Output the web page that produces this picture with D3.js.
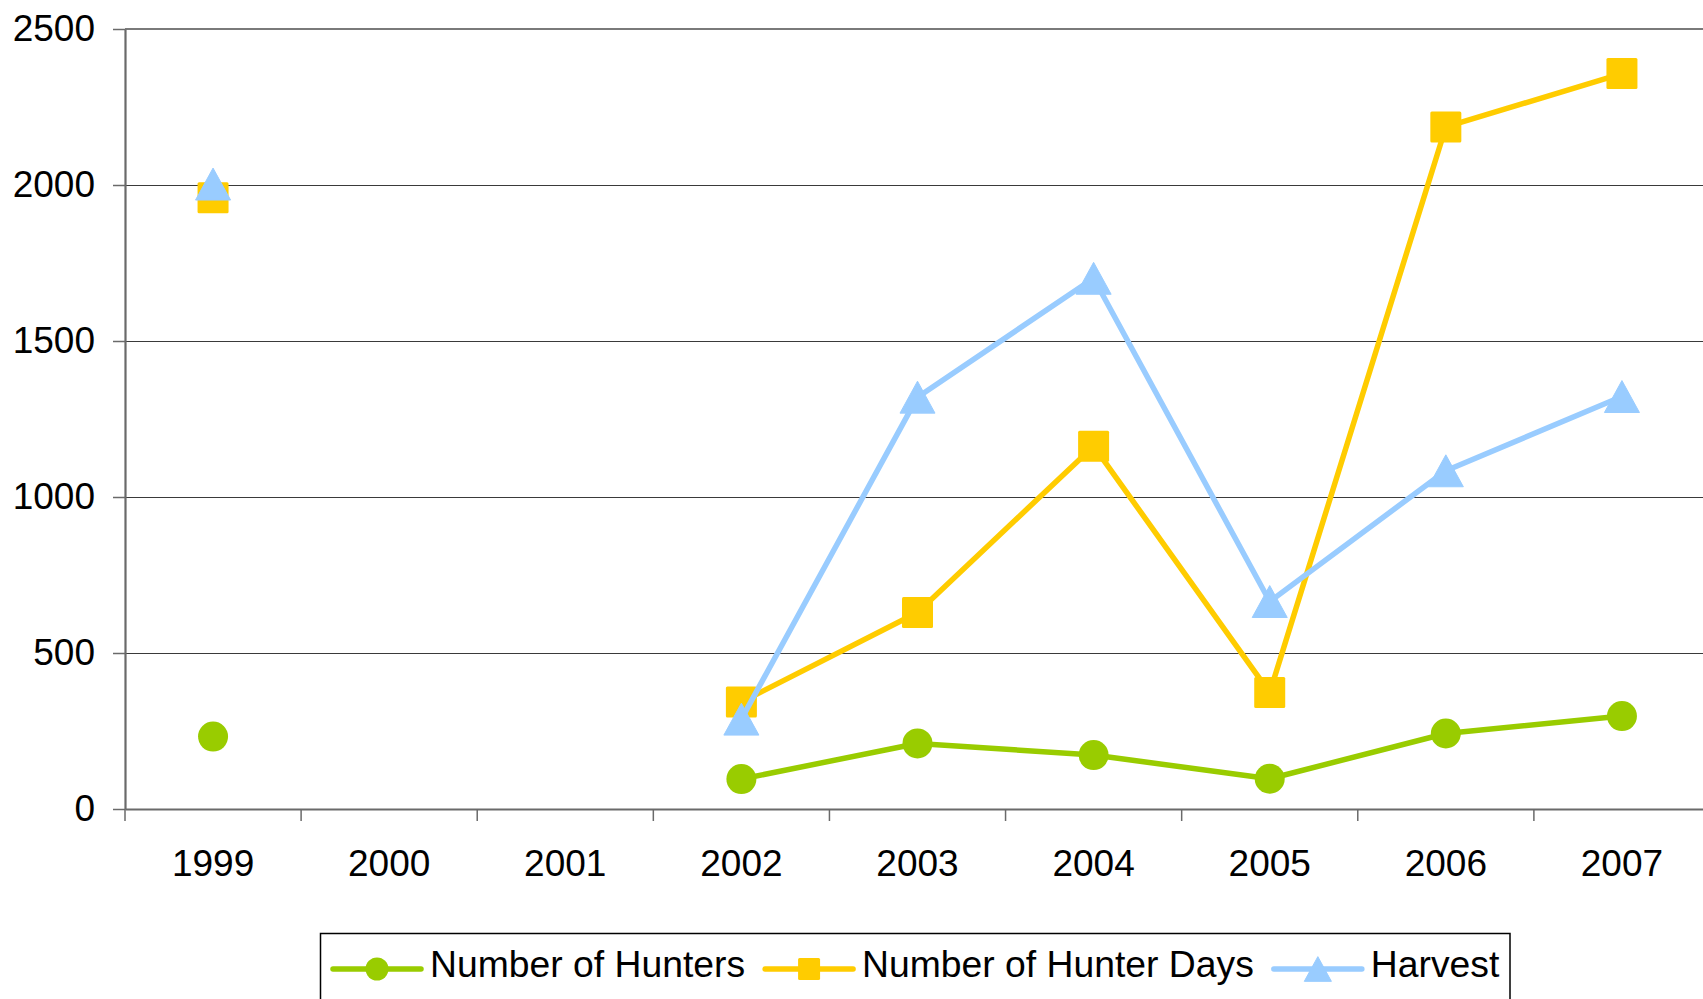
<!DOCTYPE html>
<html>
<head>
<meta charset="utf-8">
<script src="https://cdn.jsdelivr.net/npm/d3@7"></script>
<style>
  html, body { margin: 0; padding: 0; background: #fff; }
  svg { display: block; }
  text { font-family: "Liberation Sans", Arial, sans-serif; fill: #000; }
</style>
</head>
<body>
<svg id="chart" width="1703" height="999"></svg>
<script>
// Season categories
const years = ["1999", "2000", "2001", "2002", "2003", "2004", "2005", "2006", "2007"];
// Series values (null = no survey that season)
const hunters    = [232, null, null, 96, 210, 173, 97, 242, 298];
const hunterDays = [1959, null, null, 343, 630, 1163, 373, 2186, 2357];
const harvest    = [2003, null, null, 288, 1320, 1701, 665, 1084, 1322];
// Y tick labels
const yTicks = [0, 500, 1000, 1500, 2000, 2500];

const seriesNames = ["Number of Hunters", "Number of Hunter Days", "Harvest"];
const seriesColors = ["#99CC00", "#FFCC00", "#99CCFF"];
const seriesShapes = ["circle", "square", "triangle"];
const seriesValues = [hunters, hunterDays, harvest];

const svg = d3.select("#chart");
const plot = { left: 125, right: 1710, top: 29, bottom: 809 };

const x = d3.scaleBand().domain(years).range([plot.left, plot.right]).padding(0);
const y = d3.scaleLinear().domain([0, 2500]).range([plot.bottom, plot.top]);
const cx = d => x(d) + x.bandwidth() / 2;
const crisp = v => Math.round(v) + 0.5;

// Horizontal gridlines
svg.append("g").selectAll("line")
  .data(yTicks.filter(t => t > 0 && t < 2500))
  .join("line")
  .attr("x1", plot.left).attr("x2", plot.right)
  .attr("y1", d => crisp(y(d))).attr("y2", d => crisp(y(d)))
  .attr("stroke", "#3a3a3a").attr("stroke-width", 1)
  .attr("shape-rendering", "crispEdges");

// Top border of the plot area
svg.append("line")
  .attr("x1", plot.left).attr("x2", plot.right)
  .attr("y1", y(2500)).attr("y2", y(2500))
  .attr("stroke", "#7a7a7a").attr("stroke-width", 2.2);

// Y axis
const yAxis = svg.append("g")
  .attr("transform", `translate(${plot.left},0)`)
  .call(d3.axisLeft(y).tickValues(yTicks).tickFormat(d3.format("d"))
    .tickSize(12).tickPadding(18).tickSizeOuter(0));
yAxis.select(".domain").attr("stroke", "#6a6a6a").attr("stroke-width", 2.2);
yAxis.selectAll(".tick line").attr("stroke", "#6a6a6a").attr("stroke-width", 1.5);
yAxis.selectAll(".tick text").attr("font-size", 37).attr("font-family", "Liberation Sans, Arial, sans-serif").attr("fill", "#000");

// X axis (labels centred in each category)
const xAxis = svg.append("g")
  .attr("transform", `translate(0,${plot.bottom})`)
  .call(d3.axisBottom(x).tickSize(0).tickPadding(41).tickSizeOuter(0));
xAxis.select(".domain").attr("stroke", "#6a6a6a").attr("stroke-width", 2.2);
xAxis.selectAll(".tick text").attr("font-size", 37).attr("font-family", "Liberation Sans, Arial, sans-serif").attr("fill", "#000");

// X tick marks on the category boundaries
const boundaries = years.map(d => x(d)).concat([x(years[years.length - 1]) + x.bandwidth()]);
svg.append("g").selectAll("line")
  .data(boundaries)
  .join("line")
  .attr("x1", d => d).attr("x2", d => d)
  .attr("y1", plot.bottom).attr("y2", plot.bottom + 12)
  .attr("stroke", "#6a6a6a").attr("stroke-width", 1.5);

// Marker drawing helper
function marker(sel, shape, color, size) {
  if (shape === "circle") {
    sel.append("circle").attr("r", size / 2).attr("fill", color);
  } else if (shape === "square") {
    sel.append("rect").attr("x", -size / 2).attr("y", -size / 2)
      .attr("width", size).attr("height", size).attr("rx", 1.5).attr("fill", color);
  } else {
    const w = size * 1.13, h = size * 1.03;
    sel.append("path").attr("d", `M0,${-h / 2}L${w / 2},${h / 2}L${-w / 2},${h / 2}Z`)
      .attr("fill", color).attr("stroke", color).attr("stroke-width", 1).attr("stroke-linejoin", "round");
  }
}

const line = d3.line()
  .defined(d => d.v !== null)
  .x(d => cx(d.year))
  .y(d => y(d.v));

const markerSizes = [30, 31, 31];

seriesValues.forEach((vals, i) => {
  const pts = years.map((yr, j) => ({ year: yr, v: vals[j] }));
  const g = svg.append("g");
  g.append("path")
    .datum(pts)
    .attr("d", line)
    .attr("fill", "none")
    .attr("stroke", seriesColors[i])
    .attr("stroke-width", 5.5)
    .attr("stroke-linejoin", "round");
  g.selectAll("g.pt")
    .data(pts.filter(d => d.v !== null))
    .join("g")
    .attr("class", "pt")
    .attr("transform", d => `translate(${cx(d.year)},${y(d.v)})`)
    .each(function () { marker(d3.select(this), seriesShapes[i], seriesColors[i], markerSizes[i]); });
});

// Legend
const legend = svg.append("g");
legend.append("rect")
  .attr("x", 320.5).attr("y", 933.5)
  .attr("width", 1189.5).attr("height", 100)
  .attr("fill", "#fff").attr("stroke", "#000").attr("stroke-width", 1.5);

const legendY = 969;
const legendMarkerSizes = [23, 22, 24];
let lx = 333;
seriesNames.forEach((name, i) => {
  const item = legend.append("g");
  item.append("line")
    .attr("x1", lx).attr("x2", lx + 88)
    .attr("y1", legendY).attr("y2", legendY)
    .attr("stroke", seriesColors[i]).attr("stroke-width", 5.5).attr("stroke-linecap", "round");
  const m = item.append("g").attr("transform", `translate(${lx + 44},${legendY})`);
  marker(m, seriesShapes[i], seriesColors[i], legendMarkerSizes[i]);
  const t = item.append("text")
    .attr("x", lx + 97).attr("y", 977)
    .attr("font-size", 37.3)
    .text(name);
  lx = lx + 97 + t.node().getComputedTextLength() + 20;
});
</script>
</body>
</html>
